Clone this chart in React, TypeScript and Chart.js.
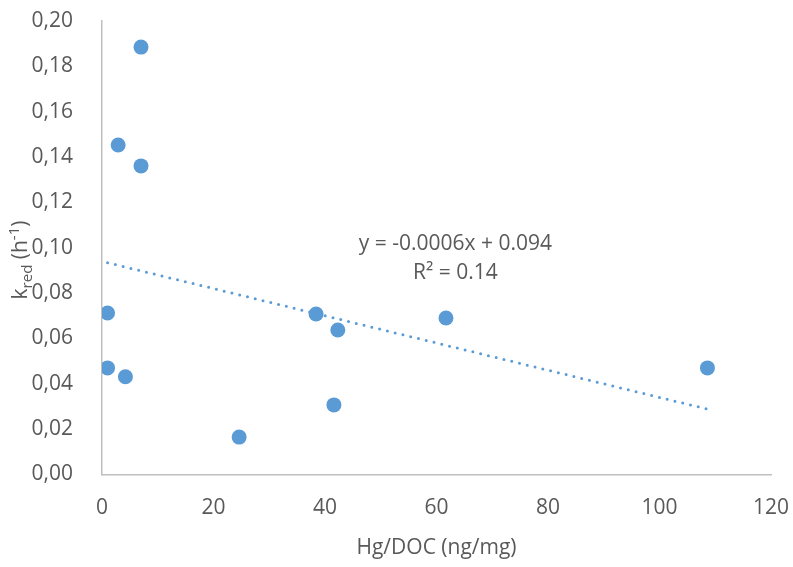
import { useEffect, useRef } from "react";
import { Chart, registerables } from "chart.js";

Chart.register(...registerables);

// Hg/DOC ratio (ng/mg) and reduction rate constant k_red (h^-1)
const hgDoc = [7.0, 2.9, 7.0, 1.0, 1.0, 4.2, 24.6, 38.4, 42.3, 41.6, 61.7, 108.6];
const kRed = [0.1885, 0.1453, 0.1361, 0.0712, 0.047, 0.0431, 0.0165, 0.0708, 0.0637, 0.0307, 0.069, 0.047];

// Linear trendline y = slope * x + intercept
const trendSlope = -0.0006;
const trendIntercept = 0.094;
const rSquared = 0.14;

const xAxisMin = 0;
const xAxisMax = 120;
const xAxisStep = 20;
const yAxisMin = 0;
const yAxisMax = 0.2;
const yAxisStep = 0.02;

const xTitle = "Hg/DOC (ng/mg)";
const equationText = `y = ${trendSlope}x + ${trendIntercept}`;
const rSquaredText = `R² = ${rSquared}`;

const FONT = "'Open Sans', 'Liberation Sans', sans-serif";
const FONT_SIZE = 21;
const TEXT_COLOR = "#595959";
const AXIS_COLOR = "#BFBFBF";
const MARK_COLOR = "#5B9BD5";

const textPlugin = {
  id: "customText",
  afterDraw(chart: Chart) {
    const { ctx, chartArea, scales } = chart;
    ctx.save();
    ctx.fillStyle = TEXT_COLOR;

    // x axis title
    ctx.font = `${FONT_SIZE}px ${FONT}`;
    ctx.textAlign = "center";
    ctx.textBaseline = "middle";
    ctx.fillText(xTitle, (chartArea.left + chartArea.right) / 2, 548);

    // trendline equation
    const ex = scales.x.getPixelForValue(63.4);
    ctx.fillText(equationText, ex, scales.y.getPixelForValue(0.1018));
    ctx.fillText(rSquaredText, ex, scales.y.getPixelForValue(0.0889));

    // y axis title with subscript and superscript
    const parts: { t: string; size: number; shift: number }[] = [
      { t: "k", size: FONT_SIZE, shift: 0 },
      { t: "red", size: 15, shift: 5 },
      { t: " (h", size: FONT_SIZE, shift: 0 },
      { t: "-1", size: 15, shift: -8 },
      { t: ")", size: FONT_SIZE, shift: 0 },
    ];
    let total = 0;
    const widths = parts.map((p) => {
      ctx.font = `${p.size}px ${FONT}`;
      const w = ctx.measureText(p.t).width;
      total += w;
      return w;
    });
    ctx.translate(20, 260);
    ctx.rotate(-Math.PI / 2);
    ctx.textAlign = "left";
    ctx.textBaseline = "alphabetic";
    let cx = -total / 2;
    parts.forEach((p, i) => {
      ctx.font = `${p.size}px ${FONT}`;
      ctx.fillText(p.t, cx, 7 + p.shift);
      cx += widths[i];
    });
    ctx.restore();
  },
};

export default function App() {
  const canvasRef = useRef<HTMLCanvasElement | null>(null);

  useEffect(() => {
    if (!canvasRef.current) return;
    const xStart = Math.min(...hgDoc);
    const xEnd = Math.max(...hgDoc);
    const chart = new Chart(canvasRef.current, {
      type: "scatter",
      data: {
        datasets: [
          {
            label: "k_red",
            data: hgDoc.map((x, i) => ({ x, y: kRed[i] })),
            backgroundColor: MARK_COLOR,
            borderColor: MARK_COLOR,
            pointRadius: 7.5,
            pointHoverRadius: 7.5,
            borderWidth: 0,
          },
          {
            type: "line",
            label: "Linear",
            data: [
              { x: xStart, y: trendSlope * xStart + trendIntercept },
              { x: xEnd, y: trendSlope * xEnd + trendIntercept },
            ],
            borderColor: MARK_COLOR,
            borderWidth: 3,
            borderDash: [0, 8],
            borderCapStyle: "round",
            pointRadius: 0,
            fill: false,
          },
        ],
      },
      options: {
        responsive: false,
        animation: false,
        events: [],
        layout: { padding: { left: 0, top: 21, right: 22, bottom: 0 } },
        plugins: {
          legend: { display: false },
          tooltip: { enabled: false },
          title: { display: false },
        },
        scales: {
          x: {
            type: "linear",
            min: xAxisMin,
            max: xAxisMax,
            grid: { display: false },
            border: { display: true, color: AXIS_COLOR, width: 1.5 },
            ticks: {
              stepSize: xAxisStep,
              color: TEXT_COLOR,
              font: { family: FONT, size: FONT_SIZE },
              padding: 13,
              maxRotation: 0,
            },
            afterFit(axis: any) {
              axis.height = 92.5;
              axis.paddingLeft = 0;
              axis.paddingRight = 0;
            },
          },
          y: {
            type: "linear",
            min: yAxisMin,
            max: yAxisMax,
            grid: { display: false },
            border: { display: true, color: AXIS_COLOR, width: 1.5 },
            ticks: {
              stepSize: yAxisStep,
              color: TEXT_COLOR,
              font: { family: FONT, size: FONT_SIZE },
              padding: 21,
              callback: (v: any) => Number(v).toFixed(2).replace(".", ","),
            },
            afterFit(axis: any) {
              axis.width = 102;
              axis.paddingTop = 0;
              axis.paddingBottom = 0;
            },
          },
        },
      },
      plugins: [textPlugin],
    });
    return () => chart.destroy();
  }, []);

  return (
    <div style={{ position: "fixed", left: 0, top: 0, width: 793, height: 567, background: "#fff" }}>
      <canvas ref={canvasRef} width={793} height={567} />
    </div>
  );
}
